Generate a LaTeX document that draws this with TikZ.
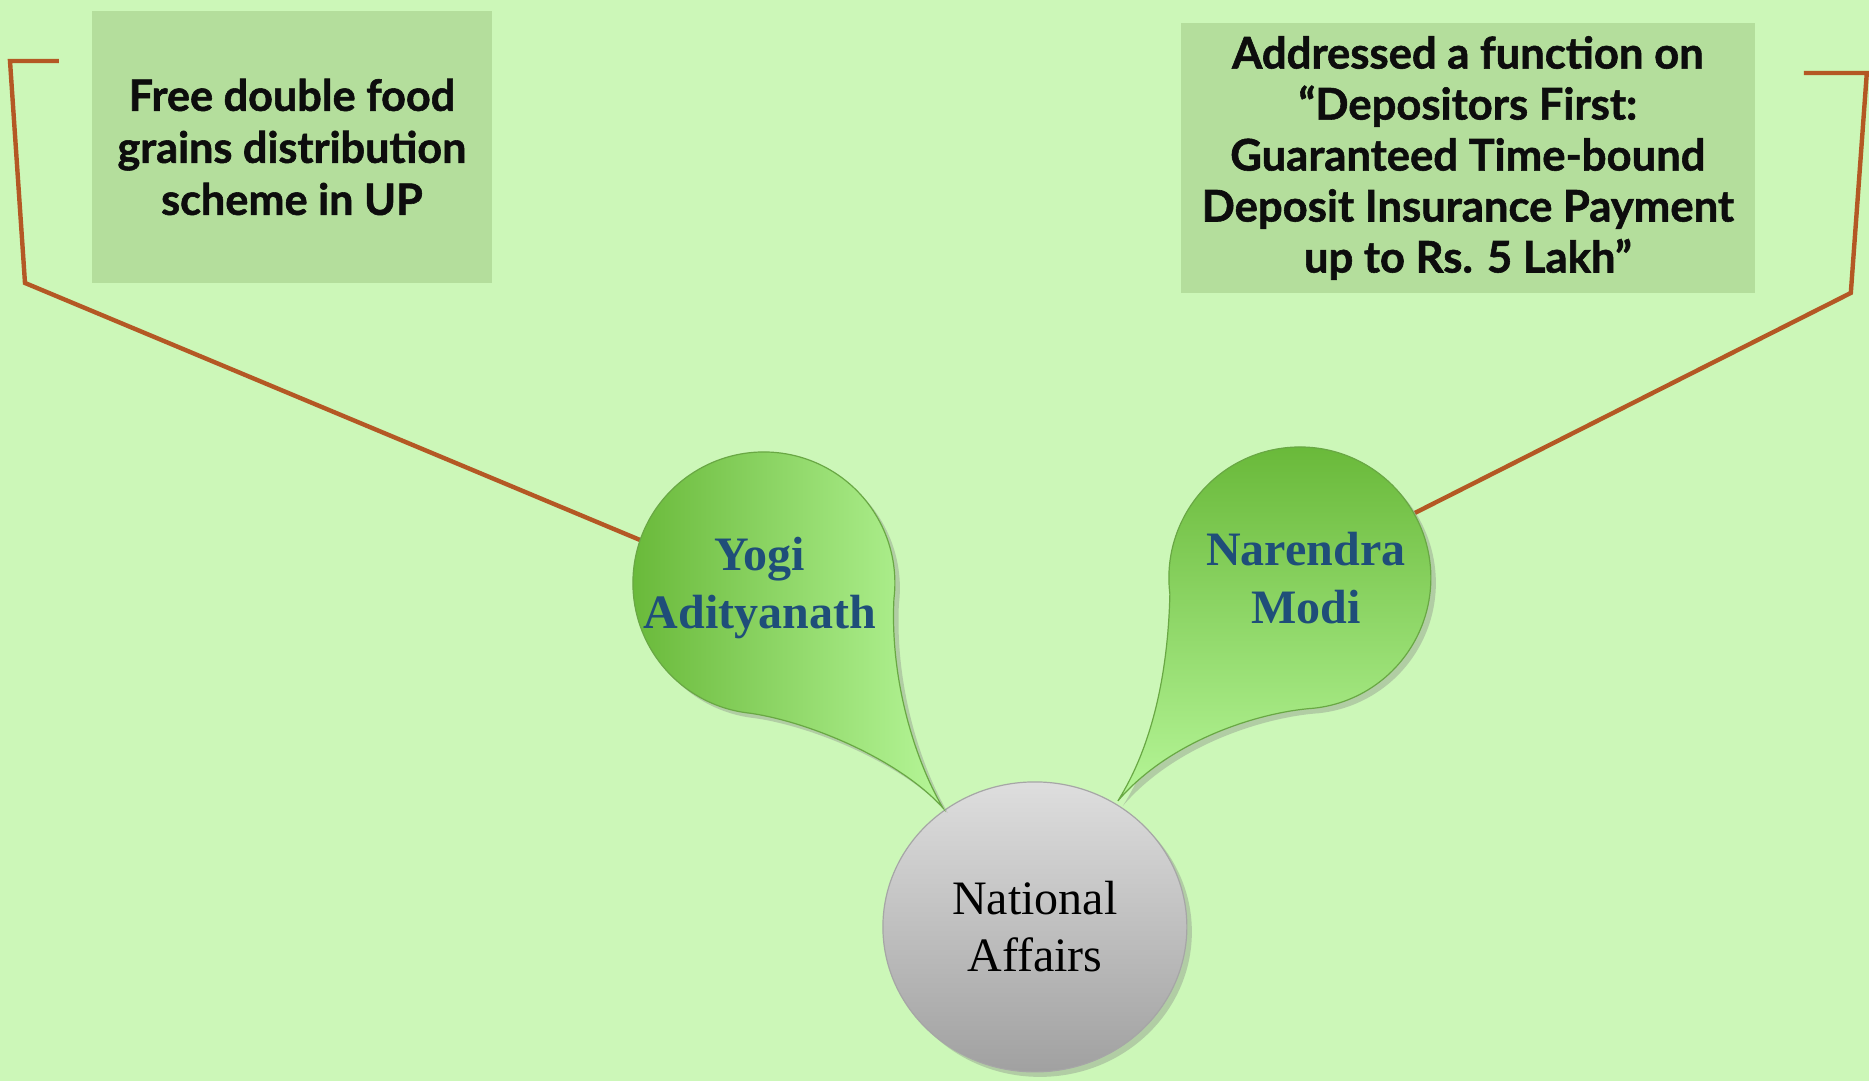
\documentclass[tikz,border=0pt]{standalone}
\usepackage{fontspec}
\setmainfont{Liberation Serif}
\newfontfamily\boxfont[BoldFeatures={FakeBold=1.3}]{Lato}
\usetikzlibrary{shapes.geometric,shadows}
\definecolor{bg}{RGB}{204,247,184}
\definecolor{boxfill}{RGB}{180,222,156}
\definecolor{bracket}{RGB}{180,88,36}
\definecolor{dgreen}{RGB}{104,184,56}
\definecolor{lgreen}{RGB}{182,246,152}
\definecolor{dropline}{RGB}{105,168,68}
\definecolor{navy}{RGB}{31,78,121}
\tikzset{
  infobox/.style={fill=boxfill, inner sep=0pt, align=center, text=black!95},
  bracketline/.style={draw=bracket, line width=2.2pt},
  dropshape/.style={draw=dropline, line width=0.6pt,
    drop shadow={shadow xshift=2.5pt, shadow yshift=-2.5pt, opacity=0.35}},
  droptext/.style={text=navy, align=center, inner sep=0pt,
    font=\fontsize{24pt}{29pt}\selectfont\bfseries},
}
\begin{document}
\begin{tikzpicture}[x=0.5pt,y=-0.5pt]
\fill[bg] (0,0) rectangle (1869,1081);

% boxes
\node[infobox, minimum width=200pt, minimum height=136pt,
      font=\boxfont\bfseries\fontsize{21.6pt}{26pt}\selectfont] (lbox) at (292,147)
  {Free double food\\grains distribution\\scheme in UP};
\node[infobox, minimum width=287pt, minimum height=135pt,
      font=\boxfont\bfseries\fontsize{21.8pt}{25.5pt}\selectfont] (rbox) at (1468,158)
  {Addressed a function on\\“Depositors First:\\Guaranteed Time-bound\\Deposit Insurance Payment\\up to Rs. 5 Lakh”};

% bracket connectors
\coordinate (l1) at (59,61);
\coordinate (l2) at (10,61);
\coordinate (l3) at (25,283);
\coordinate (yogiL) at (640,540);
\coordinate (r1) at (1804,73);
\coordinate (r2) at (1867,73);
\coordinate (r3) at (1851,293);
\coordinate (modiR) at (1415,513);
\draw[bracketline] (l1) -- (l2) -- (l3) -- (yogiL);
\draw[bracketline] (r1) -- (r2) -- (r3) -- (modiR);

% centre circle
\node[ellipse, minimum width=152pt, minimum height=145pt, draw=black!35, line width=0.6pt,
      top color=black!13, bottom color=black!37,
      drop shadow={shadow xshift=2.5pt, shadow yshift=-2.5pt, opacity=0.35},
      align=center, inner sep=0pt, font=\fontsize{24pt}{28.5pt}\selectfont] (na) at (1035,927)
  {National\\Affairs};

% Yogi drop
\coordinate (ytip) at (943,808);
\path[dropshape, left color=dgreen, right color=lgreen]
  (ytip) .. controls (900,760) and (810,722) .. (750.3,713.3)
  arc[start angle=96, end angle=367, radius=131]
  .. controls (890,680) and (915,760) .. (ytip) -- cycle;
\node[droptext] (yogi) at (760,588) {Yogi\\Adityanath};

% Modi drop
\coordinate (mtip) at (1118,801);
\path[dropshape, top color=dgreen, bottom color=lgreen]
  (mtip) .. controls (1150,750) and (1168,680) .. (1170,594)
  arc[start angle=173, end angle=444, radius=131]
  .. controls (1260,712) and (1170,740) .. (mtip) -- cycle;
\node[droptext] (modi) at (1306,578) {Narendra\\Modi};
\end{tikzpicture}
\end{document}
